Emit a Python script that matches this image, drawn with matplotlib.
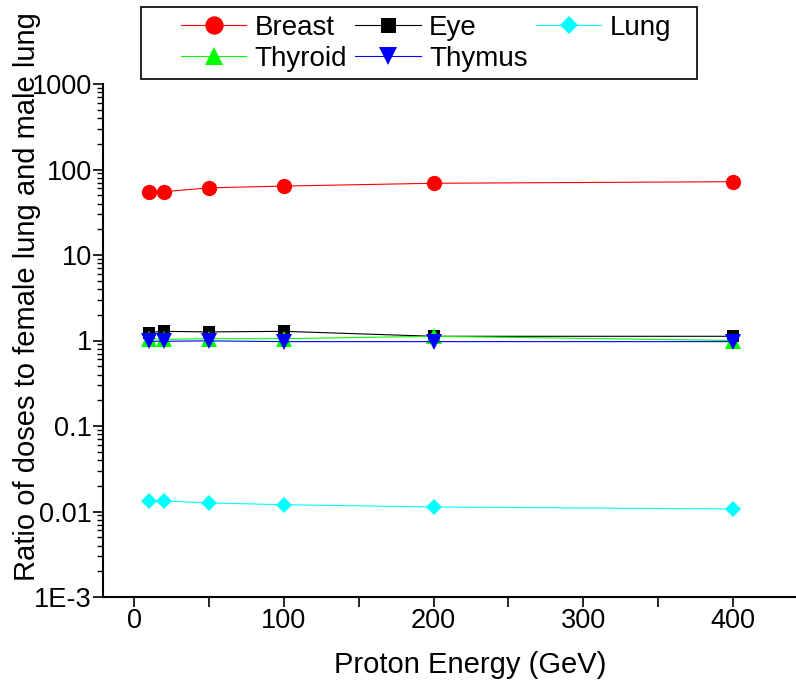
import matplotlib
matplotlib.use("Agg")
import matplotlib.pyplot as plt
from matplotlib.patches import Rectangle
from matplotlib.ticker import FixedLocator, FuncFormatter, LogLocator, MultipleLocator

plt.rcParams["font.family"] = ["Liberation Sans", "DejaVu Sans"]

# proton energies (GeV)
energy = [10, 20, 50, 100, 200, 400]

# dose ratios
breast = [54.5, 55, 61, 64, 69, 72]
eye = [1.24, 1.28, 1.26, 1.28, 1.12, 1.12]
lung = [0.0131, 0.0133, 0.0126, 0.0120, 0.0113, 0.0107]
thyroid = [1.05, 1.03, 1.05, 1.05, 1.12, 1.0]
thymus = [0.98, 0.98, 0.99, 0.97, 0.97, 0.97]

y_ticks = [1e-3, 1e-2, 1e-1, 1, 10, 100, 1000]
y_labels = ["1E-3", "0.01", "0.1", "1", "10", "100", "1000"]

W, H = 796, 689
fig = plt.figure(figsize=(W / 100, H / 100), dpi=100)
ax = fig.add_axes([103 / W, 1 - 597 / H, 693 / W, 513 / H])

series = [
    ("Breast", breast, "#ff0000", "o", 11),
    ("Eye", eye, "#000000", "s", 9),
    ("Lung", lung, "#00ffff", "D", 8),
    ("Thyroid", thyroid, "#00ff00", "^", 11),
    ("Thymus", thymus, "#0000ff", "v", 11),
]
handles = {}
for name, vals, col, mk, ms in series:
    h, = ax.plot(energy, vals, color=col, lw=0.8, marker=mk, ms=ms,
                 mfc=col, mec=col, mew=0, label=name)
    handles[name] = h

ax.set_yscale("log")
ax.set_ylim(1e-3, 1000)
ax.set_xlim(-20.7, 442)

ax.yaxis.set_major_locator(FixedLocator(y_ticks))
ax.yaxis.set_major_formatter(FuncFormatter(lambda v, p: y_labels[y_ticks.index(v)] if v in y_ticks else ""))
ax.yaxis.set_minor_locator(LogLocator(base=10, subs=range(2, 10), numticks=20))
ax.xaxis.set_major_locator(MultipleLocator(100))
ax.xaxis.set_minor_locator(MultipleLocator(50))

for s in ["top", "right"]:
    ax.spines[s].set_visible(False)
for s in ["left", "bottom"]:
    ax.spines[s].set_linewidth(1.5)

ax.tick_params(which="major", direction="out", length=7, width=1.2, labelsize=19.5, pad=1)
ax.tick_params(which="minor", direction="out", length=4, width=1.0)
ax.tick_params(axis="x", which="minor", length=7, width=1.2)

ax.set_xlabel("Proton Energy (GeV)", fontsize=21)
ax.xaxis.set_label_coords((470 - 103) / 693, -0.105)
ax.set_ylabel("Ratio of doses to female lung and male lung", fontsize=21)
ax.yaxis.set_label_coords(-0.09, 0.585)

# legend: Origin-style box drawn separately, entries laid out inside it
order = ["Breast", "Thyroid", "Eye", "Thymus", "Lung"]
leg = fig.legend([handles[n] for n in order], order, ncol=3, fontsize=20,
                 loc="upper left", bbox_to_anchor=(181 / W, 1 - 15 / H),
                 bbox_transform=fig.transFigure, borderaxespad=0, borderpad=0,
                 frameon=False, handlelength=2.35, handletextpad=0.3,
                 columnspacing=0.3, labelspacing=0.17)
for lh in leg.legend_handles:
    lh.set_markersize(lh.get_markersize() * 1.2)
fig.patches.append(Rectangle((141 / W, 1 - 79 / H), 556 / W, 72 / H,
                             transform=fig.transFigure, fill=False,
                             ec="black", lw=1.2))

fig.savefig("out.png", dpi=100)
